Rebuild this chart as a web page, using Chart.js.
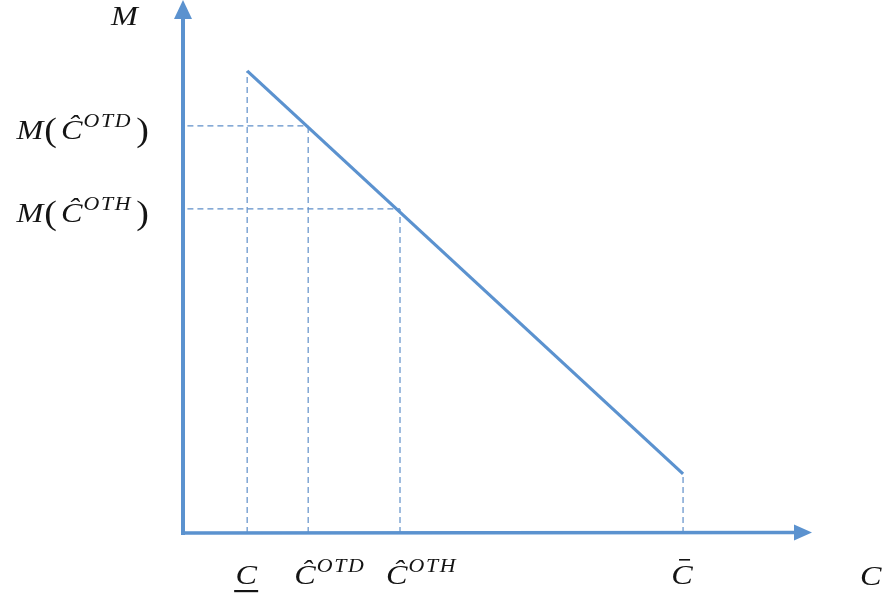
<!DOCTYPE html>
<html>
<head>
<meta charset="utf-8">
<script src="https://cdn.jsdelivr.net/npm/chart.js@4"></script>
<style>
  html, body { margin: 0; padding: 0; background: #ffffff; }
  #wrap { position: relative; width: 882px; height: 599px; }
</style>
</head>
<body>
<div id="wrap"><canvas id="chart"></canvas></div>
<script>
// Cost levels on the horizontal axis: C (lower bound), Ĉ^OTD, Ĉ^OTH, C̄ (upper bound)
const costValues = [1.02, 1.99, 3.45, 7.95];
// M at each of those cost levels
const mValues = [8.67, 7.64, 6.08, 1.11];
// Label pieces for the cost levels: base letter, superscript, decoration
const costBase = ['C', '\u0108', '\u0108', 'C'];
const costSup = ['', 'OTD', 'OTH', ''];
const costMark = ['under', '', '', 'bar'];
// Label pieces for the marked M levels (index into the arrays above)
const mLabelIndex = [1, 2];
const axisNames = ['C', 'M'];
const axisMax = [10, 10];

const LINE = '#5b92cf';
const GUIDE = '#5f8fc9';
const TEXT = '#141414';

const first = 0, last = costValues.length - 1;

const datasets = [];
// demand line from the lower to the upper cost bound
datasets.push({
  data: [{ x: costValues[first], y: mValues[first] }, { x: costValues[last], y: mValues[last] }],
  showLine: true, borderColor: LINE, borderWidth: 3.2, pointRadius: 0, clip: false,
  borderCapStyle: 'butt'
});
// vertical guides dropping from the line to the cost axis
costValues.forEach((c, i) => {
  datasets.push({
    data: [{ x: c, y: 0 }, { x: c, y: mValues[i] }],
    showLine: true, borderColor: GUIDE, borderWidth: 1.2, borderDash: [6, 4],
    pointRadius: 0, clip: false
  });
});
// horizontal guides from the M axis to the line
mLabelIndex.forEach(i => {
  datasets.push({
    data: [{ x: 0.07, y: mValues[i] }, { x: costValues[i], y: mValues[i] }],
    showLine: true, borderColor: GUIDE, borderWidth: 1.2, borderDash: [6, 4],
    pointRadius: 0, clip: false
  });
});

const FONT = '"Liberation Serif", "Times New Roman", serif';
const BIG = 28, SMALL = 19, PAREN = 33, STRETCH = 1.15;

function pieceWidth(ctx, p) {
  ctx.font = (p.upright ? '' : 'italic ') + p.size + 'px ' + FONT;
  ctx.letterSpacing = (p.spacing || 0) + 'px';
  return ctx.measureText(p.t).width * STRETCH;
}
function drawPieces(ctx, pieces, x, y) {
  let cx = x;
  const boxes = [];
  pieces.forEach(p => {
    const w = pieceWidth(ctx, p);
    ctx.save();
    ctx.translate(cx, y + (p.dy || 0));
    ctx.scale(STRETCH, 1);
    ctx.fillText(p.t, 0, 0);
    ctx.restore();
    boxes.push({ x: cx, w: w });
    cx += w + (p.gap || 0);
  });
  ctx.letterSpacing = '0px';
  return boxes;
}
function totalWidth(ctx, pieces) {
  return pieces.reduce((s, p) => s + pieceWidth(ctx, p) + (p.gap || 0), 0);
}

const axesAndLabels = {
  id: 'axesAndLabels',
  afterDatasetsDraw(chart) {
    const ctx = chart.ctx;
    const xs = chart.scales.x, ys = chart.scales.y;
    const ox = xs.getPixelForValue(0), oy = ys.getPixelForValue(0);
    const xEnd = xs.getPixelForValue(axisMax[0]);
    const yEnd = ys.getPixelForValue(axisMax[1]);
    ctx.save();
    ctx.strokeStyle = LINE; ctx.fillStyle = LINE;
    ctx.lineWidth = 4; ctx.lineCap = 'butt';
    // vertical axis with arrowhead
    ctx.beginPath(); ctx.moveTo(ox, oy + 2); ctx.lineTo(ox, yEnd + 16); ctx.stroke();
    ctx.beginPath(); ctx.moveTo(ox, yEnd); ctx.lineTo(ox - 9, yEnd + 19); ctx.lineTo(ox + 9, yEnd + 19); ctx.closePath(); ctx.fill();
    // horizontal axis with arrowhead
    ctx.lineWidth = 3.4;
    ctx.beginPath(); ctx.moveTo(ox - 2, oy); ctx.lineTo(xEnd - 16, oy - 0.5); ctx.stroke();
    ctx.beginPath(); ctx.moveTo(xEnd, oy - 0.5); ctx.lineTo(xEnd - 18, oy - 8.5); ctx.lineTo(xEnd - 18, oy + 7.5); ctx.closePath(); ctx.fill();

    ctx.fillStyle = TEXT; ctx.textBaseline = 'alphabetic'; ctx.textAlign = 'left';
    // cost labels below the axis
    costValues.forEach((c, i) => {
      const px = xs.getPixelForValue(c);
      const pieces = [{ t: costBase[i], size: BIG, gap: 1 }];
      if (costSup[i]) pieces.push({ t: costSup[i], size: SMALL, dy: -12, spacing: 1.5 });
      const baseW = pieceWidth(ctx, pieces[0]);
      const startX = costSup[i] ? px - 14 : px - baseW / 2 - 1;
      drawPieces(ctx, pieces, startX, oy + 51);
      if (costMark[i] === 'under') {
        ctx.fillRect(px - 13, oy + 57, 24, 2.2);
      } else if (costMark[i] === 'bar') {
        ctx.fillRect(px - 4, oy + 26, 11, 1.6);
      }
    });
    // M labels left of the axis
    mLabelIndex.forEach(i => {
      const py = ys.getPixelForValue(mValues[i]);
      const pieces = [
        { t: 'M', size: BIG, gap: 1 },
        { t: '(', size: PAREN, dy: 2, gap: 4, upright: true },
        { t: costBase[i], size: BIG, gap: 1 },
        { t: costSup[i], size: SMALL, dy: -12, gap: 4, spacing: 1.5 },
        { t: ')', size: PAREN, dy: 2, upright: true }
      ];
      const w = totalWidth(ctx, pieces);
      drawPieces(ctx, pieces, ox - 34 - w, py + 13);
    });
    // axis names
    drawPieces(ctx, [{ t: axisNames[0], size: BIG }], xEnd + 48, oy + 52);
    drawPieces(ctx, [{ t: axisNames[1], size: BIG }], ox - 72, yEnd + 25);
    ctx.restore();
  }
};

new Chart(document.getElementById('chart'), {
  type: 'scatter',
  data: { datasets },
  options: {
    responsive: true,
    maintainAspectRatio: false,
    animation: false,
    events: [],
    layout: { padding: { left: 183, right: 70, top: 0, bottom: 66 } },
    plugins: { legend: { display: false }, tooltip: { enabled: false } },
    scales: {
      x: { type: 'linear', min: 0, max: axisMax[0], display: false },
      y: { type: 'linear', min: 0, max: axisMax[1], display: false }
    }
  },
  plugins: [axesAndLabels]
});
</script>
</body>
</html>
